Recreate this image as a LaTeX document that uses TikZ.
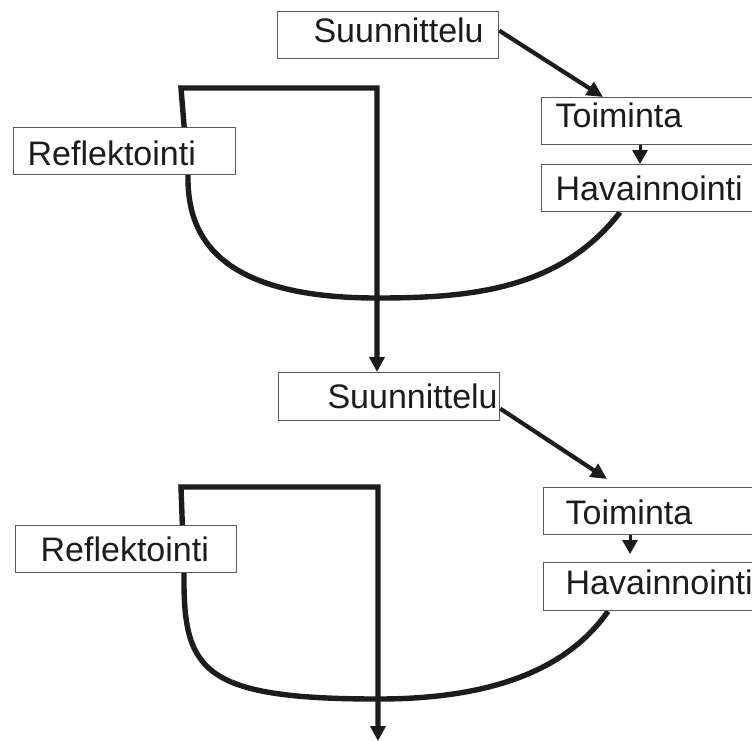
\documentclass[tikz,border=0pt]{standalone}
\usepackage{fontspec}
\setmainfont{Liberation Sans}
\usetikzlibrary{arrows.meta,backgrounds}
\definecolor{ink}{HTML}{1C1C1C}
\definecolor{frame}{HTML}{5A5A5A}
% move a label up or down without changing the box it sits in
\newcommand{\lifted}[2]{\raisebox{#1}[\height][\depth]{#2}}
\begin{document}
\begin{tikzpicture}[x=1pt,y=-1pt,
  box/.style={draw=frame, line width=1.3pt, fill=white, anchor=north west,
    inner ysep=0pt, minimum height=47pt,
    font=\fontsize{34}{40}\selectfont, text=ink},
  loopline/.style={draw=ink, line width=5.4pt, line join=miter,
    -{Triangle[length=15pt,width=15pt]}},
  flow/.style={draw=ink, line width=4.2pt, -{Triangle[length=16pt,width=15pt]}},
  minor/.style={draw=ink, line width=3pt, -{Triangle[length=14pt,width=15pt]}}
]
\useasboundingbox (0,0) rectangle (752,740);
\clip (0,0) rectangle (752,740);

% first cycle
\node[box, minimum width=221pt, inner xsep=15pt, text width=191pt, align=right]
  (s1) at (277,11) {\lifted{4.5pt}{Suunnittelu}};
\node[box, minimum width=260pt, inner xsep=14pt, text width=232pt, align=left]
  (t1) at (541,97) {\lifted{6pt}{Toiminta}};
\node[box, minimum width=260pt, inner xsep=14pt, text width=232pt, align=left]
  (h1) at (541,164) {Havainnointi};
\node[box, minimum width=222pt, inner xsep=14pt, text width=194pt, align=left]
  (r1) at (13,127) {\lifted{-2.5pt}{Reflektointi}};

% second cycle
\node[box, minimum width=221pt, minimum height=48pt, inner xsep=2pt, text width=217pt, align=right]
  (s2) at (278,372) {Suunnittelu};
\node[box, minimum width=260pt, inner xsep=22pt, text width=216pt, align=left]
  (t2) at (543,487) {\lifted{-1.5pt}{Toiminta}};
\node[box, minimum width=260pt, minimum height=48pt, inner xsep=22pt, text width=216pt, align=left]
  (h2) at (543,562) {\lifted{4.5pt}{Havainnointi}};
\node[box, minimum width=221pt, inner xsep=25pt, text width=171pt, align=left]
  (r2) at (15,525) {Reflektointi};

\coordinate (out) at (378,741);

% loops run behind the boxes
\begin{scope}[on background layer]
  \draw[loopline] ([xshift=79pt]h1.south west)
    .. controls (560,290) and (470,298) .. (377,298)
    .. controls (205,298) and (187,225) .. (188,174)
    -- (181,88) -- (377,88) -- ([xshift=99pt]s2.north west);
  \draw[loopline] ([xshift=65pt]h2.south west)
    .. controls (560,680) and (470,699) .. (378,699)
    .. controls (200,699) and (183,670) .. (184,572)
    -- (181,487) -- (378,487) -- (out);
\end{scope}

% steps within each cycle
\draw[flow] ([yshift=4.5pt]s1.east) -- ([xshift=62pt]t1.north west);
\draw[minor] ([xshift=99pt]t1.south west) -- ([xshift=99pt]h1.north west);
\draw[flow] ([yshift=-12pt]s2.east) -- ([xshift=64pt,yshift=8pt]t2.north west);
\draw[minor] ([xshift=87pt]t2.south west) -- ([xshift=87pt,yshift=8pt]h2.north west);
\end{tikzpicture}
\end{document}
